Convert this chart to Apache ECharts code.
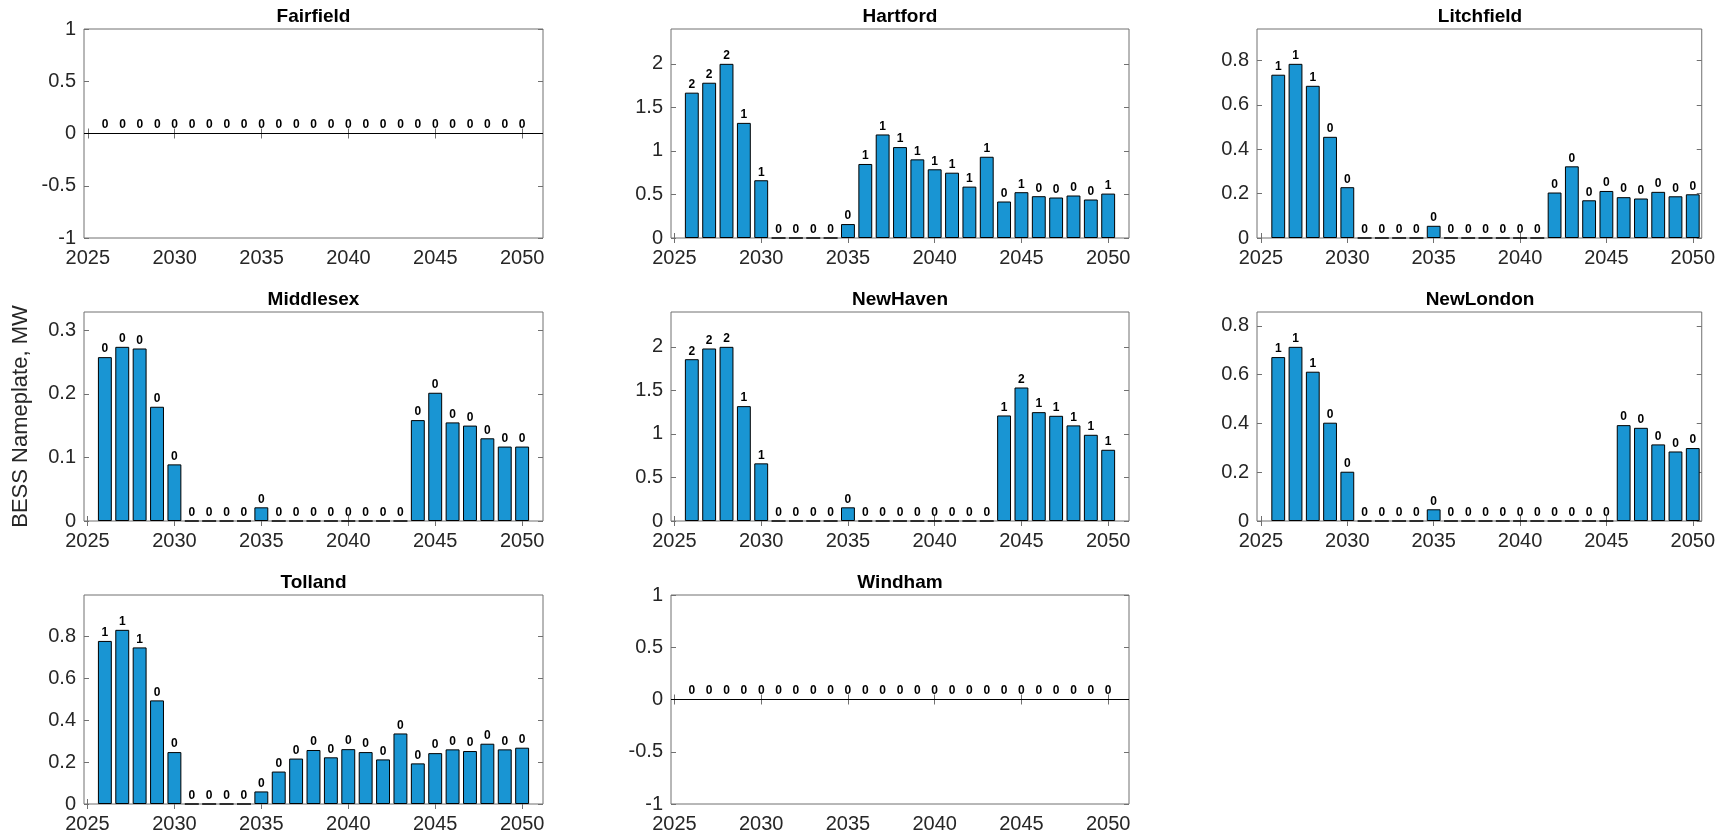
<!DOCTYPE html>
<html><head><meta charset="utf-8">
<script src="https://cdn.jsdelivr.net/npm/echarts@6/dist/echarts.min.js"></script>
<style>html,body{margin:0;padding:0;background:#fff}#c{width:1718px;height:834px}</style>
</head><body><div id="c"></div>
<script>
// ---------- data ----------
const years = [2026,2027,2028,2029,2030,2031,2032,2033,2034,2035,2036,2037,2038,2039,2040,2041,2042,2043,2044,2045,2046,2047,2048,2049,2050];
const fairfield  = [0,0,0,0,0,0,0,0,0,0,0,0,0,0,0,0,0,0,0,0,0,0,0,0,0];
const hartford   = [1.669,1.783,2.0,1.322,0.663,0,0,0,0,0.16,0.85,1.189,1.044,0.903,0.789,0.75,0.59,0.933,0.419,0.526,0.48,0.465,0.488,0.442,0.51];
const litchfield = [0.736,0.785,0.686,0.456,0.229,0,0,0,0,0.055,0,0,0,0,0,0,0.205,0.323,0.170,0.212,0.184,0.178,0.208,0.188,0.197];
const middlesex  = [0.2576,0.2738,0.2712,0.1796,0.089,0,0,0,0,0.0215,0,0,0,0,0,0,0,0,0.1586,0.2016,0.155,0.150,0.130,0.117,0.117];
const newHaven   = [1.858,1.981,2.0,1.319,0.662,0,0,0,0,0.157,0,0,0,0,0,0,0,0,1.212,1.533,1.250,1.208,1.098,0.990,0.818];
const newLondon  = [0.672,0.714,0.612,0.403,0.202,0,0,0,0,0.048,0,0,0,0,0,0,0,0,0,0,0.393,0.382,0.314,0.285,0.299];
const tolland    = [0.779,0.832,0.748,0.495,0.248,0,0,0,0,0.060,0.155,0.217,0.258,0.223,0.262,0.248,0.213,0.337,0.194,0.243,0.261,0.253,0.288,0.261,0.269];
const windham    = [0,0,0,0,0,0,0,0,0,0,0,0,0,0,0,0,0,0,0,0,0,0,0,0,0];

const xTicks       = [2025,2030,2035,2040,2045,2050];
const yTicksSigned = [-1,-0.5,0,0.5,1];
const yTicksTwo    = [0,0.5,1,1.5,2];
const yTicksEight  = [0,0.2,0.4,0.6,0.8];
const yTicksThree  = [0,0.1,0.2,0.3];
const yLabel = 'BESS Nameplate, MW';

// ---------- layout ----------
const cols = [{left:84,width:459},{left:671,width:458},{left:1257,width:446}];
const rows = [{top:29,height:209},{top:312,height:209},{top:595,height:209}];
const panels = [
  {name:'Fairfield',  vals:fairfield,  yt:yTicksSigned, r:0,c:0, xr:[2024.78,2051.2]},
  {name:'Hartford',   vals:hartford,   yt:yTicksTwo,    r:0,c:1, xr:[2024.8,2051.2]},
  {name:'Litchfield', vals:litchfield, yt:yTicksEight,  r:0,c:2, xr:[2024.77,2050.52]},
  {name:'Middlesex',  vals:middlesex,  yt:yTicksThree,  r:1,c:0, xr:[2024.8,2051.2]},
  {name:'NewHaven',   vals:newHaven,   yt:yTicksTwo,    r:1,c:1, xr:[2024.8,2051.2]},
  {name:'NewLondon',  vals:newLondon,  yt:yTicksEight,  r:1,c:2, xr:[2024.77,2050.52]},
  {name:'Tolland',    vals:tolland,    yt:yTicksEight,  r:2,c:0, xr:[2024.8,2051.2]},
  {name:'Windham',    vals:windham,    yt:yTicksSigned, r:2,c:1, xr:[2024.8,2051.2]}
];

const FONT = '"Liberation Sans", Arial, Helvetica, sans-serif';
const AX = '#707070';
const BAR = '#1995D3';
const fmt = v => String(Math.round(v * 1000) / 1000);

const grid = [], xAxis = [], yAxis = [], series = [], graphic = [];
panels.forEach((p, i) => {
  const g = {left: cols[p.c].left, top: rows[p.r].top, width: cols[p.c].width, height: rows[p.r].height};
  const mx = Math.max(...p.vals);
  const yMin = mx > 0 ? 0 : -1;
  const yMax = mx > 0 ? mx * 1.2 : 1;
  grid.push(Object.assign({show:true, borderColor:AX, borderWidth:1, backgroundColor:'rgba(0,0,0,0)'}, g));
  const tick = {show:true, inside:true, length:5, lineStyle:{color:AX, width:1}};
  xAxis.push({gridIndex:i, type:'value', position:'bottom', min:p.xr[0], max:p.xr[1],
    axisLine:{show:false}, splitLine:{show:false},
    axisTick:Object.assign({customValues:xTicks}, tick),
    axisLabel:{customValues:xTicks, formatter:fmt, fontSize:20, color:'#262626', fontFamily:FONT, margin:10}});
  xAxis.push({gridIndex:i, type:'value', position:'top', min:p.xr[0], max:p.xr[1],
    axisLine:{show:false}, splitLine:{show:false},
    axisTick:Object.assign({customValues:xTicks}, tick), axisLabel:{show:false}});
  yAxis.push({gridIndex:i, type:'value', position:'left', min:yMin, max:yMax,
    axisLine:{show:false}, splitLine:{show:false},
    axisTick:Object.assign({customValues:p.yt}, tick),
    axisLabel:{customValues:p.yt, formatter:fmt, fontSize:20, color:'#262626', fontFamily:FONT, margin:8}});
  yAxis.push({gridIndex:i, type:'value', position:'right', min:yMin, max:yMax,
    axisLine:{show:false}, splitLine:{show:false},
    axisTick:Object.assign({customValues:p.yt}, tick), axisLabel:{show:false}});
  const s = {type:'bar', xAxisIndex:2*i, yAxisIndex:2*i, barWidth:'80%',
    data: years.map((y,k) => [y, p.vals[k]]),
    itemStyle:{color:BAR, borderColor:'#000', borderWidth:1},
    label:{show:true, position:'top', distance:2, fontSize:12, fontWeight:'bold', color:'#000', fontFamily:FONT,
      formatter: q => String(Math.round(q.value[1]))},
    silent:true, animation:false};
  if (yMin < 0) {
    s.markLine = {silent:true, symbol:'none', label:{show:false}, animation:false,
      lineStyle:{color:'#000', width:1, type:'solid'}, data:[{yAxis:0}]};
  }
  series.push(s);
  graphic.push({type:'text', x: g.left + g.width/2, y: g.top - 12,
    style:{text:p.name, textAlign:'center', textVerticalAlign:'middle', fill:'#000',
      font:'bold 19px ' + FONT}});
});
graphic.push({type:'text', x:21, y: rows[1].top + rows[1].height/2, rotation: Math.PI/2,
  style:{text:yLabel, textAlign:'center', textVerticalAlign:'middle', fill:'#262626', font:'22px ' + FONT}});

const chart = echarts.init(document.getElementById('c'), null, {renderer:'canvas'});
chart.setOption({animation:false, textStyle:{fontFamily:FONT}, grid, xAxis, yAxis, series, graphic});
</script></body></html>
